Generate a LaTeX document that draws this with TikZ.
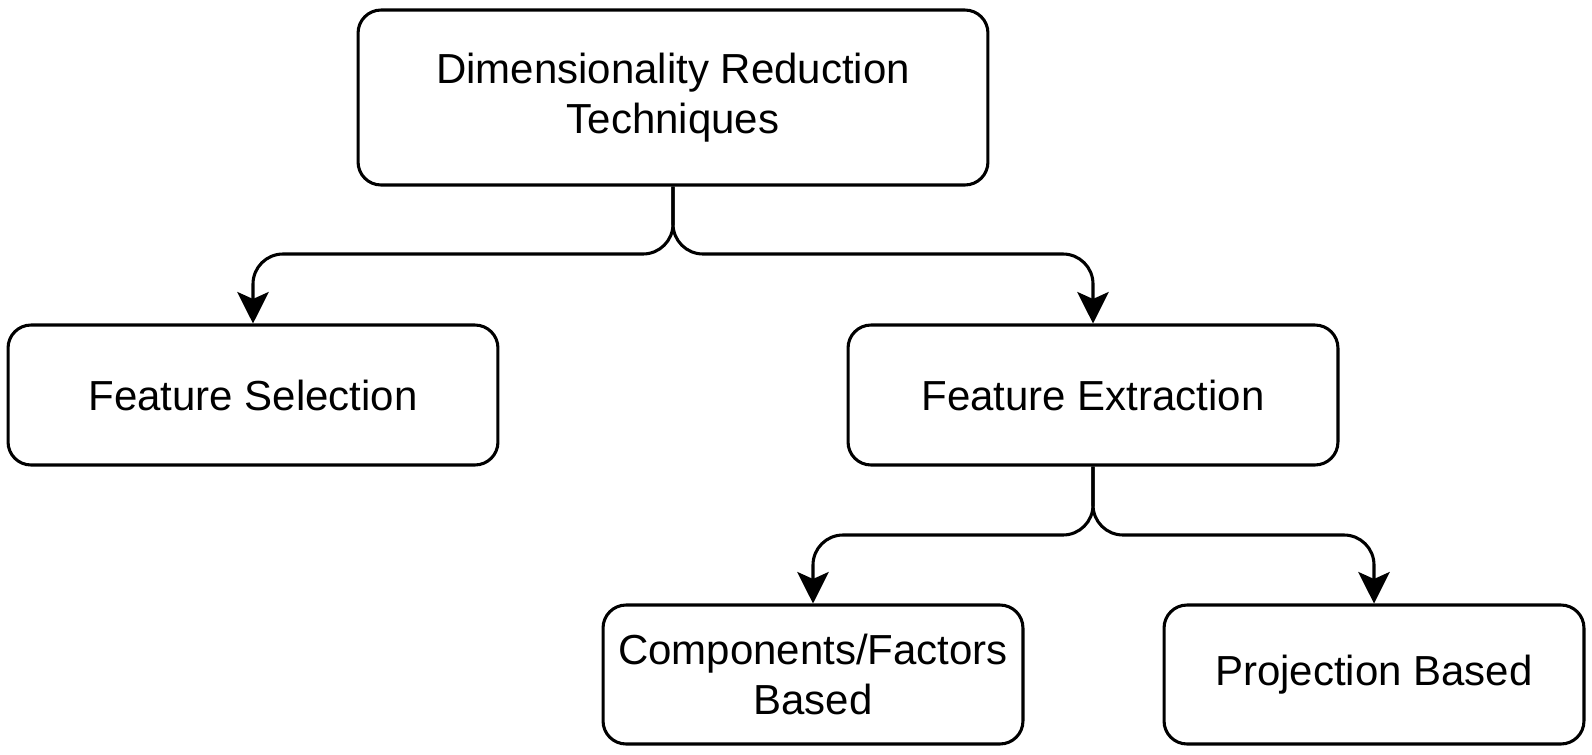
\documentclass[tikz,border=0pt]{standalone}
\usepackage{fontspec}
\setmainfont{Liberation Sans}
\usetikzlibrary{arrows.meta}
\tikzset{
  box/.style={draw=black, line width=1.75pt, rounded corners=0.46cm, rectangle, align=center,
    inner sep=0pt, font=\fontsize{23.9}{28.2}\selectfont, text=black},
  conn/.style={draw=black, line width=1.75pt, rounded corners=0.6cm,
    -{Stealth[length=0.63cm, width=0.63cm, inset=0.14cm]}}
}
\begin{document}
\begin{tikzpicture}[x=0.02cm, y=-0.02cm]
\useasboundingbox (0,0) rectangle (1592,754);
\node[box, minimum width=12.6cm, minimum height=3.5cm] (top) at (673,97.5) {Dimensionality Reduction\\Techniques};
\node[box, minimum width=9.8cm, minimum height=2.8cm] (fs) at (253,395) {Feature Selection};
\node[box, minimum width=9.8cm, minimum height=2.8cm] (fe) at (1093,395) {Feature Extraction};
\node[box, minimum width=8.4cm, minimum height=2.78cm] (cf) at (813,674.5) {Components/Factors\\Based};
\node[box, minimum width=8.4cm, minimum height=2.78cm] (pb) at (1374,674.5) {Projection Based};
\coordinate (h1) at (0,254);
\coordinate (h2) at (0,535);
\draw[conn] (top.south) -- (top.south |- h1) -| (fs.north);
\draw[conn] (top.south) -- (top.south |- h1) -| (fe.north);
\draw[conn] (fe.south) -- (fe.south |- h2) -| (cf.north);
\draw[conn] (fe.south) -- (fe.south |- h2) -| (pb.north);
\end{tikzpicture}
\end{document}
